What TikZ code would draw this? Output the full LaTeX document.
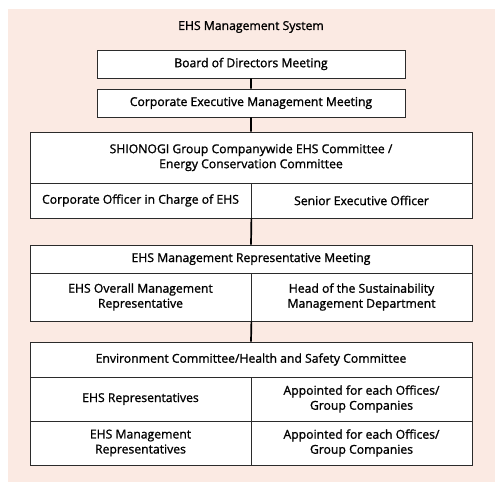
\documentclass[tikz,border=0pt]{standalone}
\usepackage{fontspec}
\setmainfont{Open Sans}[FakeBold=1.2]
\usetikzlibrary{positioning}
\definecolor{bgpink}{HTML}{FBEAE3}
\definecolor{boxline}{HTML}{2B2B2B}

\begin{document}
\begin{tikzpicture}[x=1pt,y=-1pt,
	box/.style={draw=boxline,line width=0.8pt,fill=white,inner sep=1pt,
		align=center,font=\fontsize{12.2}{15}\selectfont},
	wide/.style={box,minimum width=442pt},
	half/.style={box,minimum width=221pt},
	link/.style={draw=black,line width=1.7pt}]
	
	\useasboundingbox (0,0) rectangle (502,490);
	\fill[bgpink] (8,9) rectangle (495,482);
	
	\node[font=\fontsize{12.2}{15}\selectfont] (title) at (251,27) {EHS Management System};
	
	\node[box,minimum width=308pt,minimum height=28pt] (board) at (251,64) {Board of Directors Meeting};
	\node[box,minimum width=308pt,minimum height=28pt] (exec) at (251,103) {Corporate Executive Management Meeting};
	
	\node[wide,minimum height=51pt] (cttee) at (251,157.5) {SHIONOGI Group Companywide EHS Committee /\\Energy Conservation Committee};
	\node[half,minimum height=35pt] (officer) at (140.5,200.5) {Corporate Officer in Charge of EHS};
	\node[half,minimum height=35pt] (senior) at (361.5,200.5) {Senior Executive Officer};
	
	\node[wide,minimum height=28pt] (repmeet) at (251,259) {EHS Management Representative Meeting};
	\node[half,minimum height=48pt] (overall) at (140.5,297) {EHS Overall Management\\Representative};
	\node[half,minimum height=48pt] (head) at (361.5,297) {Head of the Sustainability\\Management Department};
	
	\node[wide,minimum height=35pt] (envcom) at (251,359.5) {Environment Committee/Health and Safety Committee};
	\node[half,minimum height=44pt] (ehsrep) at (140.5,399) {EHS Representatives};
	\node[half,minimum height=44pt] (appoint1) at (361.5,399) {Appointed for each Offices/\\Group Companies};
	\node[half,minimum height=44pt] (ehsmgmt) at (140.5,443) {EHS Management\\Representatives};
	\node[half,minimum height=44pt] (appoint2) at (361.5,443) {Appointed for each Offices/\\Group Companies};
	
	\path[link]
	(board.south) -- (exec.north)
	(exec.south) -- (cttee.north)
	(officer.south east) -- (repmeet.north)
	(overall.south east) -- (envcom.north);
\end{tikzpicture}
\end{document}
